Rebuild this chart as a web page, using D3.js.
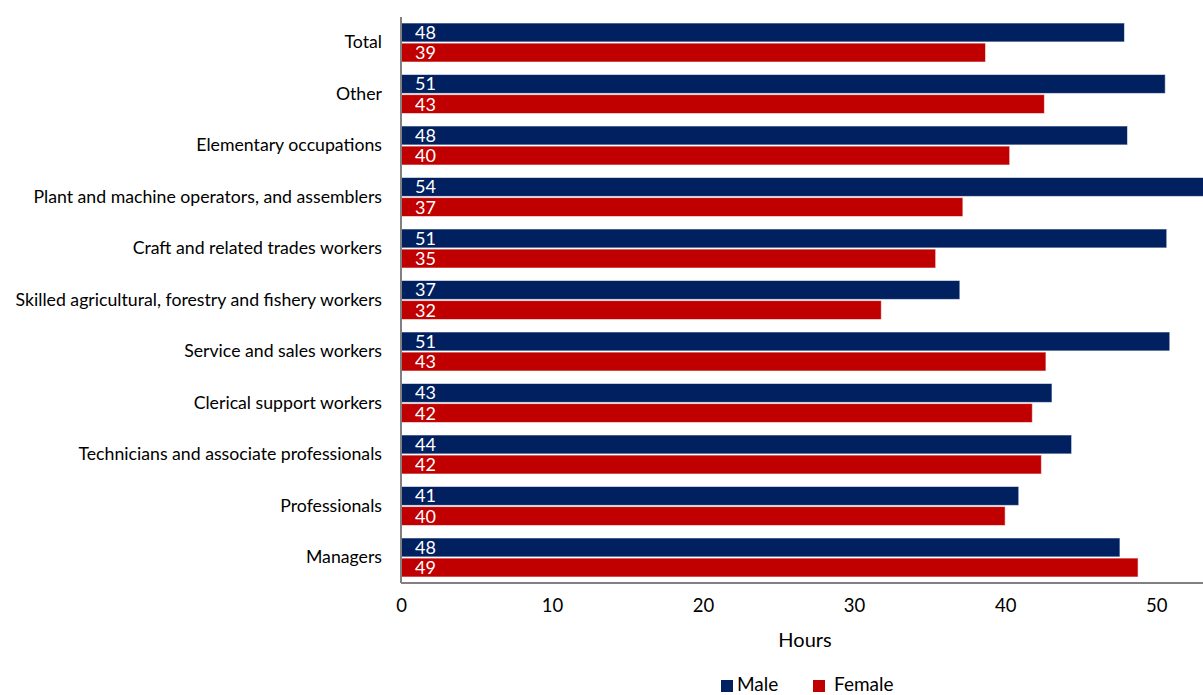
<!DOCTYPE html>
<html><head><meta charset="utf-8">
<script src="https://cdn.jsdelivr.net/npm/d3@7"></script>
<style>
html,body{margin:0;padding:0;background:#fff;}
svg{display:block;font-family:Lato,"Open Sans",sans-serif;}
</style></head>
<body><svg id="chart" width="1203" height="695"></svg>
<script>
const categories = ["Total","Other","Elementary occupations","Plant and machine operators, and assemblers","Craft and related trades workers","Skilled agricultural, forestry and fishery workers","Service and sales workers","Clerical support workers","Technicians and associate professionals","Professionals","Managers"];
const male   = [47.9, 50.6, 48.1, 53.8, 50.7, 37.0, 50.9, 43.1, 44.4, 40.9, 47.6];
const female = [38.7, 42.6, 40.3, 37.2, 35.4, 31.8, 42.7, 41.8, 42.4, 40.0, 48.8];
const seriesNames = ["Male","Female"];
const seriesColors = ["#002060","#C00000"];
const xTicks = [0,10,20,30,40,50];
const xTitle = "Hours";

const svg = d3.select("#chart");
const L = 401, R = 1203, T = 17, B = 583;
const x = d3.scaleLinear().domain([0,53.1]).range([L,R]);
const y = d3.scaleBand().domain(categories).range([T,B]).paddingInner(0.243).paddingOuter(0.117);
const ys = d3.scaleBand().domain(seriesNames).range([0,y.bandwidth()]).paddingInner(0.06);

const data = [];
categories.forEach((c,i)=>{
  data.push({cat:c, s:"Male", v:male[i]});
  data.push({cat:c, s:"Female", v:female[i]});
});
const color = d3.scaleOrdinal().domain(seriesNames).range(seriesColors);

const g = svg.append("g");
g.selectAll("rect.bar").data(data).join("rect")
  .attr("class","bar")
  .attr("x", x(0))
  .attr("y", d=>y(d.cat)+ys(d.s))
  .attr("width", d=>x(d.v)-x(0))
  .attr("height", ys.bandwidth())
  .attr("fill", d=>color(d.s))
  .attr("stroke","rgba(255,255,255,0.55)")
  .attr("stroke-width",1);

g.selectAll("text.val").data(data).join("text")
  .attr("class","val")
  .attr("x", x(0)+14)
  .attr("y", d=>y(d.cat)+ys(d.s)+ys.bandwidth()/2)
  .attr("dy","0.36em")
  .attr("fill","#fff")
  .attr("font-size",18)
  .text(d=>Math.round(d.v));

// category axis
const yAxis = d3.axisLeft(y).tickSize(0).tickPadding(19);
const ya = svg.append("g").attr("transform",`translate(${L},0)`).call(yAxis);
ya.select(".domain").attr("stroke","#808080").attr("stroke-width",2).attr("d",`M0,${T}V${B}`);
ya.selectAll("text").attr("font-size",17.7).attr("fill","#000").attr("font-family","Lato");

// x axis
const xAxis = d3.axisBottom(x).tickValues(xTicks).tickSize(0).tickPadding(16).tickFormat(d3.format("d"));
const xa = svg.append("g").attr("transform",`translate(0,${B})`).call(xAxis);
xa.select(".domain").attr("stroke","#808080").attr("stroke-width",2).attr("d",`M${L},0H${R}`);
xa.selectAll("text").attr("font-size",18.5).attr("fill","#000").attr("font-family","Lato");

svg.append("text").attr("x",(L+R)/2+3).attr("y",647).attr("text-anchor","middle")
  .attr("font-size",20).attr("fill","#000").text(xTitle);

// legend
const legX = [721, 813];
const lg = svg.append("g");
seriesNames.forEach((s,i)=>{
  lg.append("rect").attr("x",legX[i]).attr("y",680).attr("width",12).attr("height",12).attr("fill",seriesColors[i]);
  lg.append("text").attr("x",legX[i]+(i===0?16:21)).attr("y",691).attr("font-size",19).attr("fill","#000").text(s);
});
</script></body></html>
